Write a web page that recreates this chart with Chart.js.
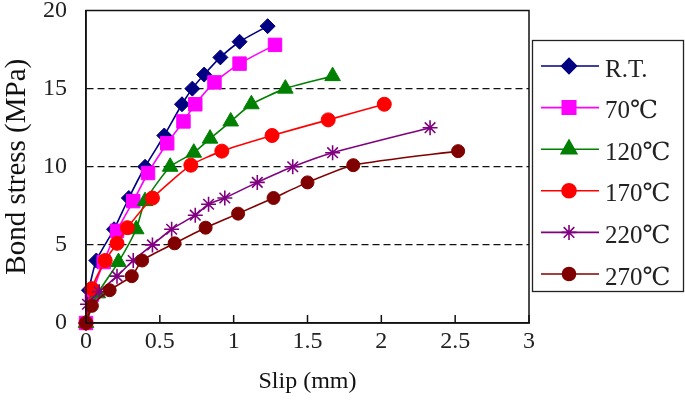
<!DOCTYPE html>
<html>
<head>
<meta charset="utf-8">
<script src="https://cdn.jsdelivr.net/npm/chart.js@4.4.1/dist/chart.umd.min.js"></script>
<style>
  body { margin: 0; background: #fff; }
  #wrap { width: 685px; height: 400px; }
</style>
</head>
<body>
<div id="wrap"><canvas id="bondChart" width="685" height="400"></canvas></div>
<script>
// series labels
const seriesNames = ["R.T.", "70℃", "120℃", "170℃", "220℃", "270℃"];

// slip (mm) / bond stress (MPa)
const rtSlip = [0, 0.02, 0.07, 0.19, 0.29, 0.40, 0.53, 0.65, 0.72, 0.80, 0.91, 1.04, 1.23];
const rtStress = [0, 2.1, 4.0, 6.0, 8.0, 10.0, 12.0, 14.0, 15.0, 15.9, 17.0, 18.0, 19.0];

const t70Slip = [0, 0.04, 0.12, 0.21, 0.32, 0.42, 0.55, 0.66, 0.74, 0.87, 1.04, 1.28];
const t70Stress = [0, 1.8, 3.9, 5.9, 7.8, 9.6, 11.5, 12.9, 14.0, 15.4, 16.6, 17.8];

const t120Slip = [0, 0.08, 0.22, 0.34, 0.40, 0.57, 0.73, 0.84, 0.98, 1.12, 1.35, 1.67];
const t120Stress = [0, 1.9, 3.9, 6.0, 7.8, 10.0, 10.9, 11.8, 12.9, 14.0, 15.0, 15.8];

const t170Slip = [0, 0.04, 0.13, 0.21, 0.28, 0.45, 0.71, 0.92, 1.26, 1.64, 2.02];
const t170Stress = [0, 2.2, 4.0, 5.1, 6.1, 8.0, 10.1, 11.0, 12.0, 13.0, 14.0];

const t220Slip = [0, 0.01, 0.09, 0.21, 0.32, 0.45, 0.58, 0.74, 0.83, 0.94, 1.16, 1.40, 1.67, 2.33];
const t220Stress = [0, 1.2, 2.0, 3.0, 4.0, 5.0, 6.0, 6.9, 7.6, 8.0, 9.0, 10.0, 10.9, 12.5];

const t270Slip = [0, 0.04, 0.16, 0.31, 0.38, 0.60, 0.81, 1.03, 1.27, 1.50, 1.81, 2.52];
const t270Stress = [0, 1.1, 2.1, 3.0, 4.0, 5.1, 6.1, 7.0, 8.0, 9.0, 10.1, 11.0];

// axis ticks
const xTicks = [0, 0.5, 1, 1.5, 2, 2.5, 3];
const yTicks = [0, 5, 10, 15, 20];

const colors = ["#000080", "#ff00ff", "#008000", "#ff0000", "#800080", "#800000"];
const styles = ["rectRot", "rect", "triangle", "circle", "star", "circle"];
const radii = [7.5, 9.5, 9, 7, 7.5, 6.5];

const slips = [rtSlip, t70Slip, t120Slip, t170Slip, t220Slip, t270Slip];
const stresses = [rtStress, t70Stress, t120Stress, t170Stress, t220Stress, t270Stress];

function toPoints(xs, ys) {
    return xs.map((x, i) => ({ x: x, y: ys[i] }));
}

const datasets = seriesNames.map((name, i) => ({
    label: name,
    data: toPoints(slips[i], stresses[i]),
    borderColor: colors[i],
    backgroundColor: colors[i],
    borderWidth: 1.6,
    pointStyle: styles[i],
    pointRadius: radii[i],
    pointBackgroundColor: colors[i],
    pointBorderColor: colors[i],
    pointBorderWidth: styles[i] === "star" ? 1.6 : 1,
    tension: 0.2,
    clip: false,
    order: seriesNames.length - i,
}));

const serif = '"Liberation Serif", "DejaVu Serif", serif';

// frame, inward x ticks and the boxed legend
const extras = {
    id: "extras",
    afterDraw(chart) {
        const ctx = chart.ctx;
        const a = chart.chartArea;
        const xs = chart.scales.x;
        ctx.save();
        ctx.strokeStyle = "#111";
        ctx.lineWidth = 1.5;
        ctx.strokeRect(a.left, a.top, a.right - a.left, a.bottom - a.top);
        ctx.beginPath();
        xTicks.forEach(v => {
            const px = xs.getPixelForValue(v);
            ctx.moveTo(px, a.bottom);
            ctx.lineTo(px, a.bottom - 8);
        });
        ctx.stroke();

        // legend
        const lx = 532, ly = 40, lw = 151, lh = 251;
        ctx.lineWidth = 1.3;
        ctx.strokeStyle = "#222";
        ctx.strokeRect(lx + 0.5, ly + 0.5, lw, lh);
        chart.data.datasets.forEach((ds, i) => {
            const y = 66 + i * 41.6;
            ctx.strokeStyle = ds.borderColor;
            ctx.fillStyle = ds.borderColor;
            ctx.lineWidth = 1.6;
            ctx.beginPath();
            ctx.moveTo(541, y);
            ctx.lineTo(599, y);
            ctx.stroke();
            Chart.helpers.drawPoint(ctx, {
                pointStyle: ds.pointStyle,
                radius: ds.pointRadius,
                borderWidth: ds.pointBorderWidth,
                rotation: 0,
            }, 569, y);
            ctx.fillStyle = "#222";
            ctx.font = "25px " + serif;
            ctx.textBaseline = "middle";
            ctx.textAlign = "left";
            ctx.fillText(ds.label, 605, y + 4);
        });
        ctx.restore();
    },
};

new Chart(document.getElementById("bondChart"), {
    type: "line",
    data: { datasets: datasets },
    options: {
        responsive: false,
        animation: false,
        layout: { padding: { left: 0, right: 156, top: 9, bottom: 0 } },
        plugins: {
            legend: { display: false },
            tooltip: { enabled: false },
        },
        scales: {
            x: {
                type: "linear",
                min: 0,
                max: 3,
                afterBuildTicks(scale) {
                    scale.ticks = xTicks.map(v => ({ value: v }));
                },
                ticks: {
                    color: "#222",
                    font: { family: serif, size: 24 },
                    padding: 4,
                    maxRotation: 0,
                    callback: v => String(v),
                },
                grid: { display: false, drawTicks: false },
                border: { color: "#111", width: 1.5 },
                title: {
                    display: true,
                    text: "Slip (mm)",
                    color: "#111",
                    font: { family: serif, size: 24 },
                    padding: { top: 0, bottom: 4 },
                },
                afterFit(scale) {
                    scale.height = 77;
                    scale.paddingLeft = 0;
                    scale.paddingRight = 0;
                },
            },
            y: {
                type: "linear",
                min: 0,
                max: 20,
                afterBuildTicks(scale) {
                    scale.ticks = yTicks.map(v => ({ value: v }));
                },
                ticks: {
                    color: "#222",
                    font: { family: serif, size: 24 },
                    padding: 19,
                    callback: v => String(v),
                },
                grid: {
                    drawTicks: false,
                    lineWidth: 1.3,
                    color: ctx => (ctx.tick && (ctx.tick.value === 0 || ctx.tick.value === 20)) ? "rgba(0,0,0,0)" : "#111",
                },
                border: { color: "#111", width: 1.5, dash: [7, 4] },
                title: {
                    display: true,
                    text: "Bond stress (MPa)",
                    color: "#111",
                    font: { family: serif, size: 29 },
                    padding: { top: 0, bottom: 0 },
                },
                afterFit(scale) {
                    scale.width = 86;
                    scale.paddingTop = 0;
                    scale.paddingBottom = 0;
                },
            },
        },
    },
    plugins: [extras],
});
</script>
</body>
</html>
